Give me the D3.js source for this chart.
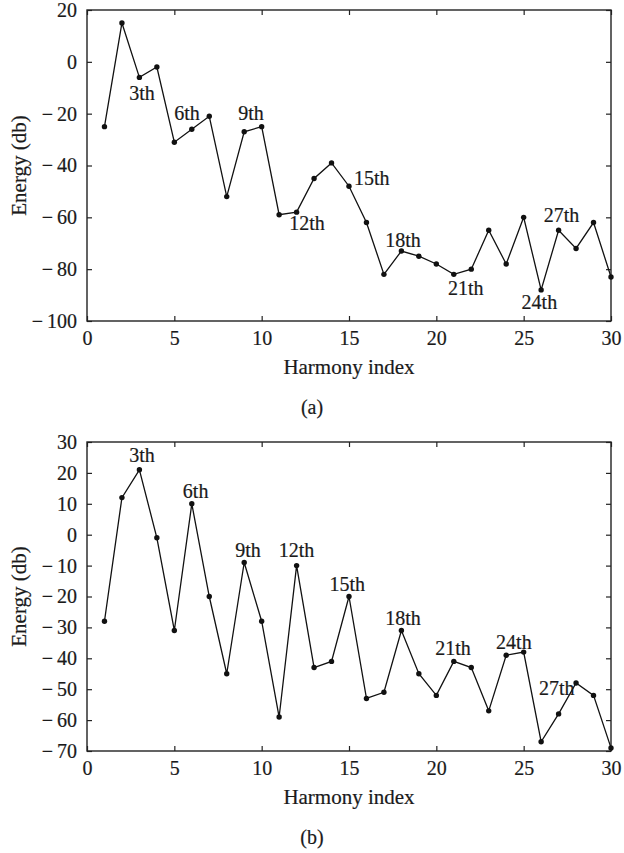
<!DOCTYPE html>
<html>
<head>
<meta charset="utf-8">
<script src="https://cdn.jsdelivr.net/npm/d3@7"></script>
<style>
  html, body { margin: 0; padding: 0; background: #fff; }
  svg text { font-family: "Liberation Serif", "DejaVu Serif", serif; fill: #1a1a1a; stroke: #1a1a1a; stroke-width: 0.2px; }
</style>
</head>
<body>
<svg id="chart" width="624" height="853"></svg>
<script>
// Harmony index (x) shared by both panels
const harmony = [1, 2, 3, 4, 5, 6, 7, 8, 9, 10, 11, 12, 13, 14, 15,
                 16, 17, 18, 19, 20, 21, 22, 23, 24, 25, 26, 27, 28, 29, 30];

// Panel (a) energy in db
const energyA = [-25, 15, -6, -2, -31, -26, -21, -52, -27, -25,
                 -59, -58, -45, -39, -48, -62, -82, -73, -75, -78,
                 -82, -80, -65, -78, -60, -88, -65, -72, -62, -83];

// Panel (b) energy in db
const energyB = [-28, 12, 21, -1, -31, 10, -20, -45, -9, -28,
                 -59, -10, -43, -41, -20, -53, -51, -31, -45, -52,
                 -41, -43, -57, -39, -38, -67, -58, -48, -52, -69];

const xTicks = [0, 5, 10, 15, 20, 25, 30];
const yTicksA = [-100, -80, -60, -40, -20, 0, 20];
const yTicksB = [-70, -60, -50, -40, -30, -20, -10, 0, 10, 20, 30];

// Harmonic annotations (text, anchor in data units)
const annoTextA = ['3th', '6th', '9th', '12th', '15th', '18th', '21th', '24th', '27th'];
const annoXA = [3.15, 5.72, 9.39, 12.6, 16.3, 18.09, 21.68, 25.9, 27.17];
const annoYA = [-14.8, -22.5, -22.5, -65, -47.6, -71.6, -90.1, -95.5, -61.9];

const annoTextB = ['3th', '6th', '9th', '12th', '15th', '18th', '21th', '24th', '27th'];
const annoXB = [3.15, 6.22, 9.22, 12.0, 14.9, 18.09, 20.95, 24.44, 26.89];
const annoYB = [23.4, 11.9, -7.1, -7.1, -18.2, -29.3, -39, -36.9, -52];

const svg = d3.select('#chart');
const fmt = d => d < 0 ? '\u2212\u2009' + Math.abs(d) : String(d);

function drawPanel(opts) {
    const { top, bottom, left, right, yDomain, yTicks, values, annoText, annoX, annoY, caption } = opts;
    const x = d3.scaleLinear().domain([0, 30]).range([left, right]);
    const y = d3.scaleLinear().domain(yDomain).range([bottom, top]);
    const g = svg.append('g');
    const tick = 5;

    // ticks (inward, mirrored on all sides)
    g.append('g').attr('transform', `translate(0,${bottom})`)
        .call(d3.axisBottom(x).tickValues(xTicks).tickSize(-tick).tickPadding(10).tickFormat(fmt))
        .call(a => a.select('.domain').remove());
    g.append('g').attr('transform', `translate(0,${top})`)
        .call(d3.axisTop(x).tickValues(xTicks).tickSize(-tick).tickFormat(''))
        .call(a => a.select('.domain').remove());
    g.append('g').attr('transform', `translate(${left},0)`)
        .call(d3.axisLeft(y).tickValues(yTicks).tickSize(-tick).tickPadding(10).tickFormat(fmt))
        .call(a => a.select('.domain').remove());
    g.append('g').attr('transform', `translate(${right},0)`)
        .call(d3.axisRight(y).tickValues(yTicks).tickSize(-tick).tickFormat(''))
        .call(a => a.select('.domain').remove());

    g.selectAll('.tick line').attr('stroke', '#222').attr('stroke-width', 1.2);
    g.selectAll('.tick text').attr('font-size', 20);

    // frame
    g.append('rect')
        .attr('x', left).attr('y', top)
        .attr('width', right - left).attr('height', bottom - top)
        .attr('fill', 'none').attr('stroke', '#222').attr('stroke-width', 1.4);

    // series line
    const line = d3.line().x((d, i) => x(harmony[i])).y(d => y(d));
    g.append('path').datum(values)
        .attr('d', line)
        .attr('fill', 'none').attr('stroke', '#111').attr('stroke-width', 1.3);

    g.selectAll('circle.pt').data(values).enter().append('circle')
        .attr('class', 'pt')
        .attr('cx', (d, i) => x(harmony[i]))
        .attr('cy', d => y(d))
        .attr('r', 2.7)
        .attr('fill', '#111');

    // annotations
    g.selectAll('text.anno').data(annoText).enter().append('text')
        .attr('class', 'anno')
        .attr('x', (d, i) => x(annoX[i]))
        .attr('y', (d, i) => y(annoY[i]))
        .attr('text-anchor', 'middle')
        .attr('font-size', 20)
        .text(d => d);

    // axis titles
    g.append('text')
        .attr('x', (left + right) / 2).attr('y', bottom + 53)
        .attr('text-anchor', 'middle').attr('font-size', 21)
        .text('Harmony index');
    g.append('text')
        .attr('transform', `translate(26,${(top + bottom) / 2}) rotate(-90)`)
        .attr('text-anchor', 'middle').attr('font-size', 21)
        .text('Energy (db)');
    g.append('text')
        .attr('x', 312).attr('y', bottom + 93)
        .attr('text-anchor', 'middle').attr('font-size', 20)
        .text(caption);
}

drawPanel({
    top: 10, bottom: 321, left: 87, right: 611,
    yDomain: [-100, 20], yTicks: yTicksA, values: energyA,
    annoText: annoTextA, annoX: annoXA, annoY: annoYA, caption: '(a)'
});

drawPanel({
    top: 442, bottom: 751, left: 87, right: 611,
    yDomain: [-70, 30], yTicks: yTicksB, values: energyB,
    annoText: annoTextB, annoX: annoXB, annoY: annoYB, caption: '(b)'
});
</script>
</body>
</html>
